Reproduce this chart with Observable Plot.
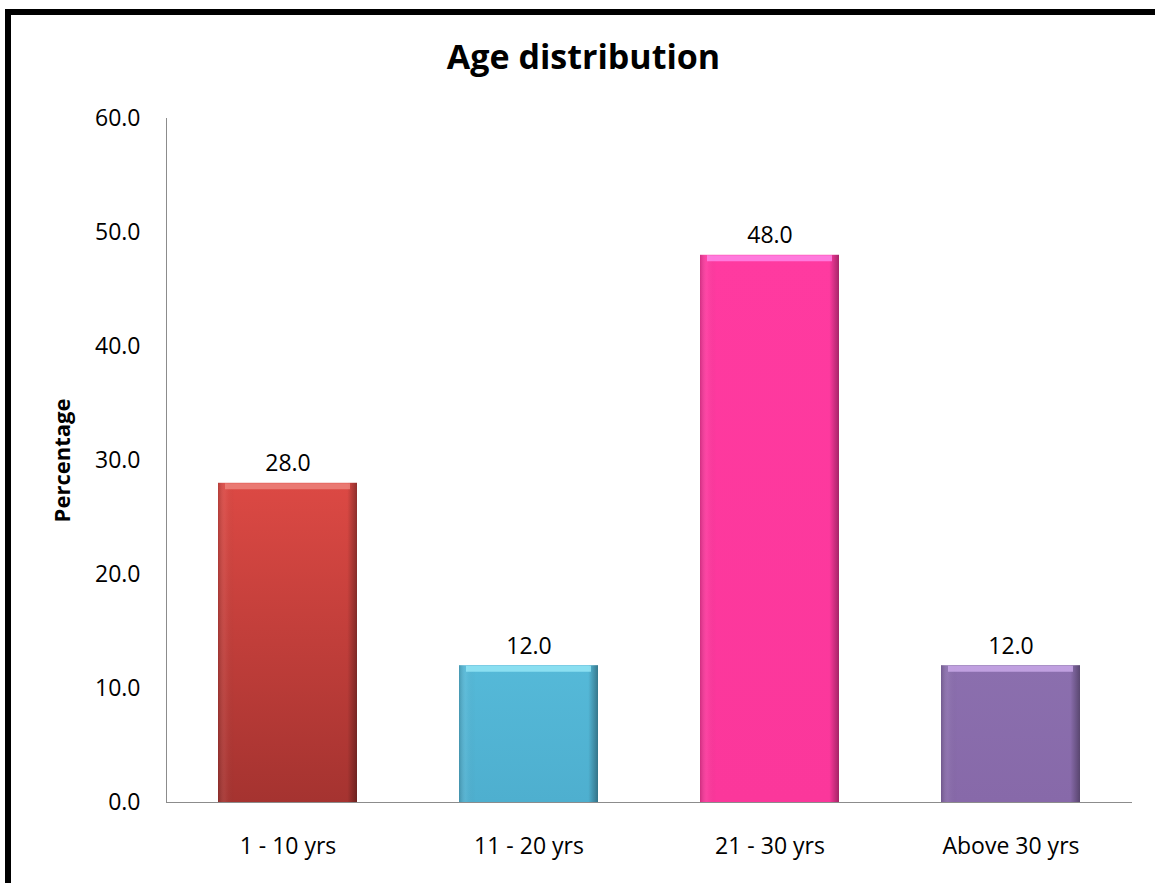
<!DOCTYPE html>
<html>
<head>
<meta charset="utf-8">
<script src="https://cdn.jsdelivr.net/npm/d3@7"></script>
<script src="https://cdn.jsdelivr.net/npm/@observablehq/plot@0.6"></script>
<style>
  html, body { margin: 0; padding: 0; background: #fff; overflow: hidden; width: 1155px; height: 883px; }
  #wrap { position: relative; width: 1155px; height: 883px; overflow: hidden; background: #fff; font-family: "Open Sans", sans-serif; }
  #btop { position: absolute; left: 5px; top: 9px; width: 1300px; height: 6px; background: #000; }
  #bleft { position: absolute; left: 5px; top: 9px; width: 6px; height: 1000px; background: #000; }
  #title { position: absolute; left: 6px; top: 34px; width: 1155px; text-align: center; font-size: 34px; font-weight: bold; line-height: 44px; color: #000; }
  #chart { position: absolute; left: 0; top: 90px; width: 1155px; height: 793px; overflow: hidden; }
  #chart svg { background: transparent; display: block; }
  g[aria-label="y-axis label"] text { font-weight: bold; font-size: 22px; }
</style>
</head>
<body>
<div id="wrap">
  <div id="btop"></div>
  <div id="bleft"></div>
  <div id="title">Age distribution</div>
  <div id="chart"></div>
</div>
<script>
const categories = ["1 - 10 yrs", "11 - 20 yrs", "21 - 30 yrs", "Above 30 yrs"];
const values = [28.0, 12.0, 48.0, 12.0];
const yTicks = [0, 10, 20, 30, 40, 50, 60];
const colorsTop = ["#dc4944", "#55b9d8", "#ff3aa0", "#8b6fae"];
const colorsBottom = ["#a53330", "#4eafcf", "#fb379b", "#8769a9"];
const bevelColors = ["#ef8a82", "#9cecf9", "#ff90f2", "#d2b0f0"];

const data = categories.map((c, i) => ({category: c, value: values[i], idx: i}));

const plot = Plot.plot({
  width: 1155,
  height: 793,
  marginLeft: 166,
  marginRight: 23,
  marginTop: 28,
  marginBottom: 81,
  style: {fontFamily: "'Open Sans', sans-serif", fontSize: "23px", color: "#000", background: "transparent"},
  x: {domain: categories, paddingInner: 0.423, paddingOuter: 0.2115, label: null},
  y: {domain: [0, 60], label: null},
  color: {domain: categories, range: categories.map((c, i) => `url(#barfill${i})`)},
  marks: [
    Plot.barY(data, {x: "category", y: "value", fill: "category"}),
    Plot.barY(data, {x: "category", y: "value", fill: "url(#edgeshade)"}),
    Plot.tickY(data, {x: "category", y: "value", stroke: d => bevelColors[d.idx], strokeWidth: 6, dy: 3, insetLeft: 7, insetRight: 7, strokeOpacity: 0.75}),
    Plot.text(data, {x: "category", y: "value", text: d => d3.format(".1f")(d.value), dy: -12, lineAnchor: "bottom", fill: "#000", fontSize: 23}),
    Plot.axisY({ticks: yTicks, tickFormat: d3.format(".1f"), tickSize: 0, tickPadding: 26, label: "Percentage", labelAnchor: "center", labelArrow: "none", labelOffset: 112, fontSize: 23}),
    Plot.axisX({tickSize: 0, tickPadding: 35, label: null, fontSize: 23}),
    Plot.frame({anchor: "left", stroke: "#8c8c8c"}),
    Plot.ruleY([0], {stroke: "#8c8c8c"})
  ]
});

const ns = "http://www.w3.org/2000/svg";
const defs = document.createElementNS(ns, "defs");
let html = "";
categories.forEach((c, i) => {
  html += `<linearGradient id="barfill${i}" x1="0" y1="0" x2="0" y2="1">
    <stop offset="0" stop-color="${colorsTop[i]}"/>
    <stop offset="1" stop-color="${colorsBottom[i]}"/>
  </linearGradient>`;
});
html += `<linearGradient id="edgeshade" x1="0" y1="0" x2="1" y2="0">
  <stop offset="0" stop-color="#000" stop-opacity="0.18"/>
  <stop offset="0.05" stop-color="#fff" stop-opacity="0.06"/>
  <stop offset="0.12" stop-color="#000" stop-opacity="0"/>
  <stop offset="0.93" stop-color="#000" stop-opacity="0"/>
  <stop offset="0.97" stop-color="#000" stop-opacity="0.2"/>
  <stop offset="1" stop-color="#000" stop-opacity="0.35"/>
</linearGradient>`;
defs.innerHTML = html;
plot.insertBefore(defs, plot.firstChild);

document.getElementById("chart").appendChild(plot);
</script>
</body>
</html>
